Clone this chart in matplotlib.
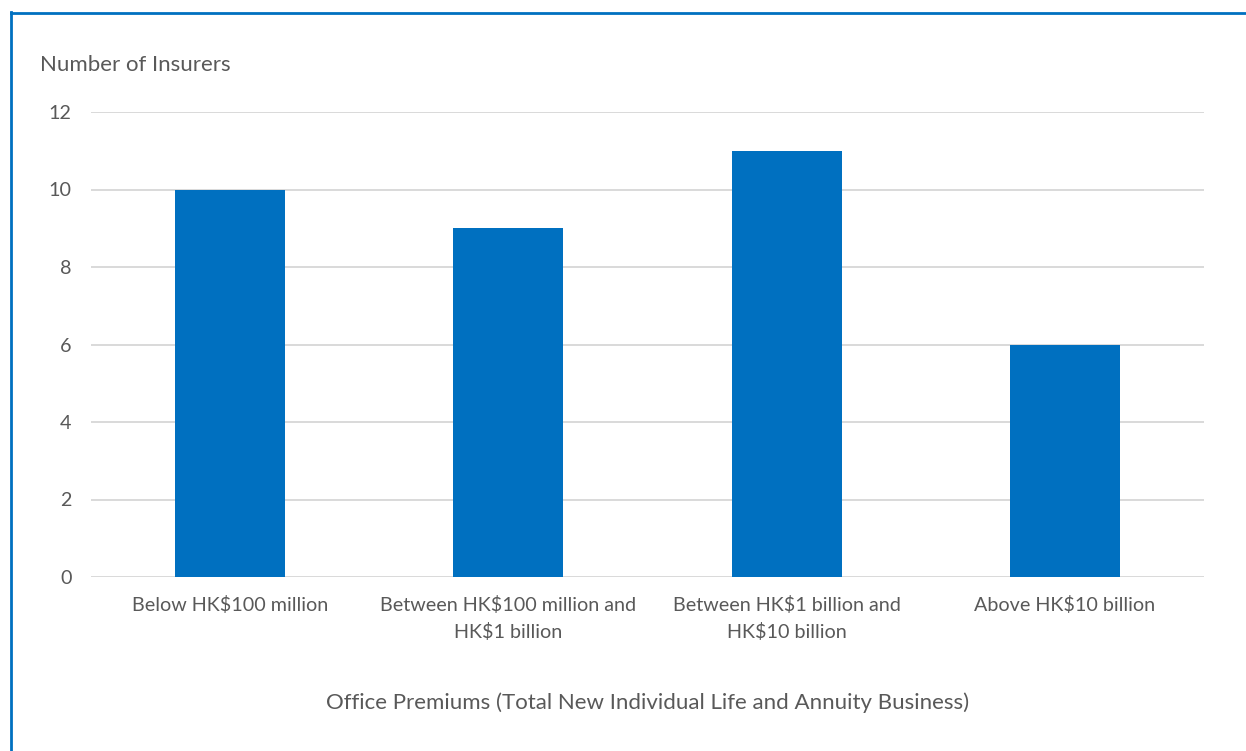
import matplotlib
matplotlib.use("Agg")
import matplotlib.pyplot as plt
from matplotlib.lines import Line2D

categories = ["Below HK$100 million",
              "Between HK$100 million and\nHK$1 billion",
              "Between HK$1 billion and\nHK$10 billion",
              "Above HK$10 billion"]
values = [10, 9, 11, 6]
yticks = [0, 2, 4, 6, 8, 10, 12]

plt.rcParams['font.family'] = ['Lato', 'DejaVu Sans']
txt = '#595959'

W, H = 1246, 751
fig = plt.figure(figsize=(W/100, H/100), dpi=100)
ax = fig.add_axes([91/W, 1-577/H, (1204-91)/W, (577-112)/H])

x = range(len(categories))
ax.bar(x, values, width=0.396, color='#0070C0', zorder=3)
ax.set_xlim(-0.5, 3.5)
ax.set_ylim(0, 12)
ax.set_yticks(yticks)
ax.set_yticklabels([str(v) for v in yticks])
ax.set_xticks(list(x))
ax.set_xticklabels(categories, linespacing=1.58)
ax.grid(axis='y', color='#D9D9D9', linewidth=1.4, zorder=0)
for s in ax.spines.values():
    s.set_visible(False)
ax.tick_params(axis='both', length=0, colors=txt, labelsize=14.2)
ax.tick_params(axis='y', pad=14)
ax.tick_params(axis='x', pad=14)

fig.text(40/W, 1-65/H, "Number of Insurers", color=txt, fontsize=16,
         ha='left', va='center')
fig.text(648/W, 1-703/H,
         "Office Premiums (Total New Individual Life and Annuity Business)",
         color=txt, fontsize=16, ha='center', va='center')

# blue frame
fig.add_artist(Line2D([10.5/W, 10.5/W], [0, 1-12/H], color='#0070C0',
                      linewidth=2, transform=fig.transFigure))
fig.add_artist(Line2D([10.5/W, 1], [1-12.5/H, 1-12.5/H], color='#0070C0',
                      linewidth=2, transform=fig.transFigure))

fig.savefig("out.png", dpi=100)
